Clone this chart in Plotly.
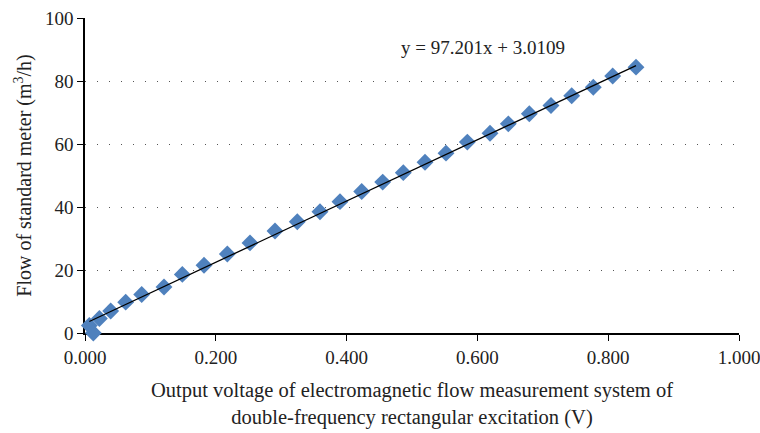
import plotly.graph_objects as go

voltage = [0.0066, 0.0127, 0.022, 0.0393, 0.0622, 0.0867, 0.1208, 0.1488, 0.182, 0.2176,
           0.2523, 0.2905, 0.3246, 0.3593, 0.3899, 0.4231, 0.4552, 0.4867, 0.5199, 0.5520,
           0.5846, 0.6193, 0.6473, 0.6794, 0.7125, 0.7442, 0.7772, 0.8069, 0.8425]
flow = [2.4, 0.0, 4.6, 7.0, 9.8, 12.2, 14.6, 18.6, 21.5, 25.1,
        28.6, 32.4, 35.3, 38.5, 41.7, 44.9, 47.9, 50.9, 54.2, 57.1,
        60.6, 63.4, 66.4, 69.6, 72.2, 75.3, 78.0, 81.6, 84.4]
slope, intercept = 97.201, 3.0109
equation = "y = 97.201x + 3.0109"

fit_x = [min(voltage), max(voltage)]
fit_y = [slope * v + intercept for v in fit_x]

FONT = "Liberation Serif"
fig = go.Figure()
fig.add_trace(go.Scatter(x=voltage, y=flow, mode="markers", cliponaxis=False,
                         marker=dict(symbol="diamond", size=13, color="#4F81BD"),
                         showlegend=False))
fig.add_trace(go.Scatter(x=fit_x, y=fit_y, mode="lines",
                         line=dict(color="black", width=1.3), showlegend=False))
fig.add_annotation(x=0.609, y=90.6, text=equation, showarrow=False,
                   font=dict(family=FONT, size=19, color="#222"))

fig.update_layout(
    width=760, height=433,
    margin=dict(l=85, r=21, t=18, b=100),
    paper_bgcolor="white", plot_bgcolor="white",
    font=dict(family=FONT, size=19, color="#222"),
    xaxis=dict(range=[0, 1], tickvals=[0, 0.2, 0.4, 0.6, 0.8, 1.0], tickformat=".3f",
               showgrid=False, zeroline=False, showline=True, linecolor="black", linewidth=1.5,
               ticks="outside", ticklen=6, tickcolor="black", tickfont=dict(size=19),
               ticklabeloverflow="allow", automargin=False, layer="below traces",
               title=dict(text="Output voltage of electromagnetic flow measurement system of<br>double-frequency rectangular excitation (V)",
                          font=dict(size=20.5), standoff=16)),
    yaxis=dict(range=[0, 100], tickvals=[0, 20, 40, 60, 80, 100],
               showgrid=True, gridcolor="#555", griddash="1px,11px", gridwidth=1.2,
               zeroline=False, showline=True, linecolor="black", linewidth=1.5,
               ticks="outside", ticklen=6, tickcolor="black", tickfont=dict(size=19),
               automargin=False, layer="below traces",
               title=dict(text="Flow of standard meter (m<sup>3</sup>/h)", font=dict(size=20), standoff=8)),
)
fig.write_html("out.html")
